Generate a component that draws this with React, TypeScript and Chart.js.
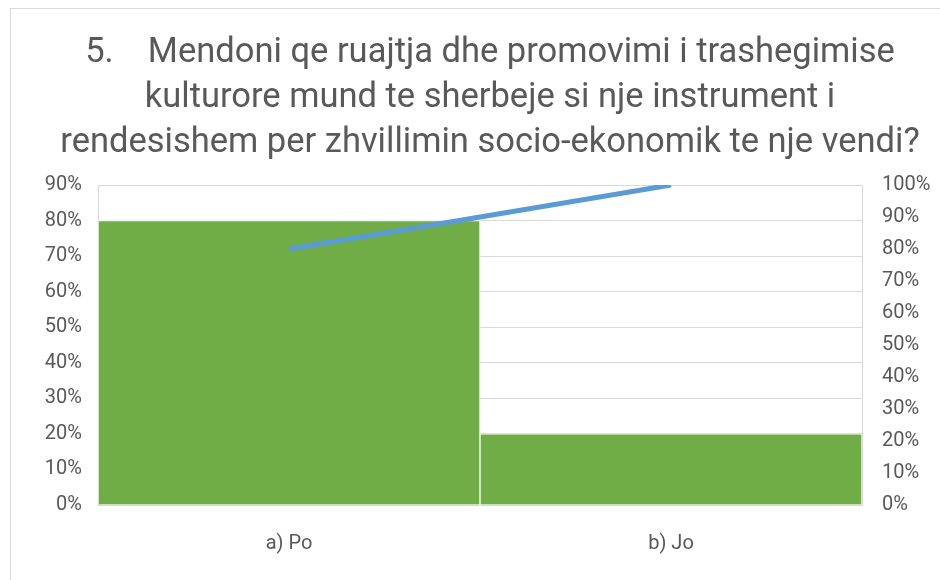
import React, { useEffect, useRef } from "react";
import { Chart, registerables } from "chart.js";

Chart.register(...registerables);

const titleLines = [
  "5.    Mendoni qe ruajtja dhe promovimi i trashegimise",
  "kulturore mund te sherbeje si nje instrument i",
  "rendesishem per zhvillimin socio-ekonomik te nje vendi?",
];
const categories = ["a) Po", "b) Jo"];
const shares = [0.8, 0.2];
const cumulative = [0.8, 1.0];

const FONT = "Roboto, sans-serif";
const TEXT = "#595959";

export default function App() {
  const ref = useRef<HTMLCanvasElement | null>(null);
  useEffect(() => {
    if (!ref.current) return;
    const pct = (v: any) => Math.round(Number(v) * 100) + "%";
    const chart = new Chart(ref.current, {
      type: "bar",
      data: {
        labels: categories,
        datasets: [
          {
            type: "line",
            data: cumulative,
            yAxisID: "y2",
            borderColor: "#5B9BD5",
            borderWidth: 5,
            pointRadius: 0,
            order: 0,
          } as any,
          {
            type: "bar",
            data: shares,
            yAxisID: "y",
            backgroundColor: "#70AD47",
            borderColor: "#ffffff",
            borderWidth: 1,
            barPercentage: 1,
            categoryPercentage: 1,
            order: 1,
          } as any,
        ],
      },
      options: {
        animation: false,
        responsive: false,
        layout: { padding: 0 },
        plugins: {
          legend: { display: false },
          tooltip: { enabled: false },
          title: {
            display: true,
            text: titleLines,
            color: TEXT,
            font: { family: FONT, size: 34.5, weight: "normal", lineHeight: 45 / 34.5 },
            padding: { top: 22.5, bottom: 19.5 },
          },
        },
        scales: {
          x: {
            grid: { display: false },
            border: { display: false },
            ticks: { color: TEXT, font: { family: FONT, size: 20 }, padding: 19 },
            afterFit: (s: any) => {
              s.height = 75;
            },
          },
          y: {
            position: "left",
            min: 0,
            max: 0.9,
            ticks: { stepSize: 0.1, color: TEXT, font: { family: FONT, size: 20 }, padding: 16, callback: pct },
            grid: { color: "#D9D9D9", lineWidth: 1, drawTicks: false },
            border: { display: true, color: "#D9D9D9" },
            afterFit: (s: any) => {
              s.width = 88;
            },
          },
          y2: {
            position: "right",
            min: 0,
            max: 1,
            ticks: { stepSize: 0.1, color: TEXT, font: { family: FONT, size: 20 }, padding: 20, callback: pct },
            grid: { display: false, drawTicks: false },
            border: { display: true, color: "#D9D9D9" },
            afterFit: (s: any) => {
              s.width = 108;
            },
          },
        },
      },
    });
    return () => chart.destroy();
  }, []);

  return (
    <div style={{ position: "fixed", left: 0, top: 0, width: 940, height: 580, overflow: "hidden", background: "#fff" }}>
      <div
        style={{
          position: "absolute",
          left: 10,
          top: 8,
          width: 1000,
          height: 700,
          borderLeft: "1px solid #D9D9D9",
          borderTop: "1px solid #D9D9D9",
        }}
      />
      <canvas ref={ref} width={960} height={572} style={{ position: "absolute", left: 10, top: 8 }} />
    </div>
  );
}
